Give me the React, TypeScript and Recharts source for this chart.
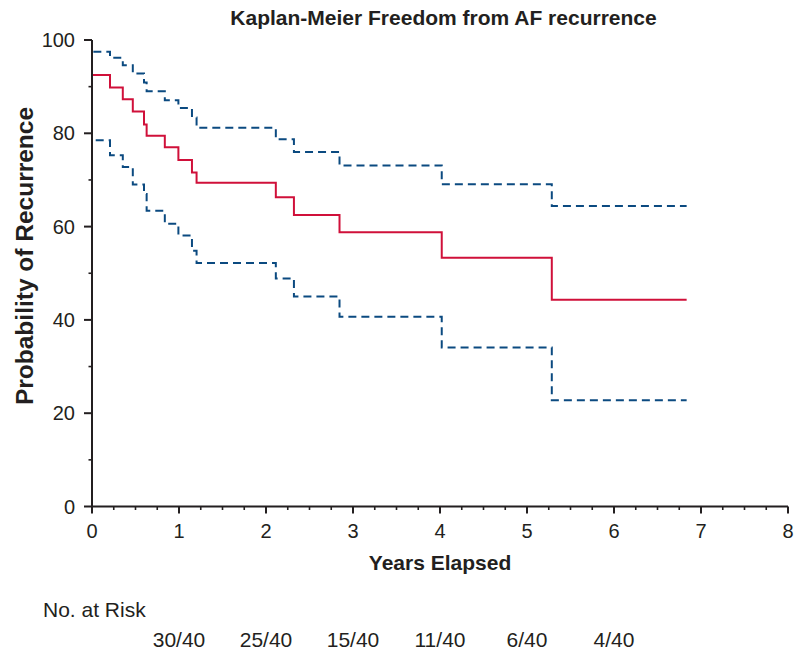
import { LineChart, Line, XAxis, YAxis } from 'recharts';

// step times (years) shared by the estimate and its confidence band
const times = [0, 0, 0.207, 0.354, 0.469, 0.598, 0.628, 0.837, 0.993, 1.149, 1.202, 2.113, 2.321, 2.845, 4.02, 5.285, 6.835];
const kmValues = [100, 92.5, 89.8, 87.3, 84.7, 81.9, 79.5, 77.0, 74.3, 71.6, 69.4, 66.3, 62.5, 58.8, 53.3, 44.3, 44.3];
const upperValues = [100, 97.5, 96.2, 94.6, 92.8, 90.9, 89.0, 87.1, 85.4, 83.4, 81.2, 78.7, 76.0, 73.1, 69.1, 64.4, 64.4];
const lowerValues = [100, 78.5, 75.3, 72.8, 69.0, 67.0, 63.4, 60.6, 58.1, 54.8, 52.2, 48.9, 45.0, 40.7, 34.1, 22.8, 22.8];

const xTicks = Array.from({ length: 33 }, (_, i) => i / 4);
const yTicks = Array.from({ length: 11 }, (_, i) => i * 10);
const riskTicks = [1, 2, 3, 4, 5, 6];
const riskLabels = ['30/40', '25/40', '15/40', '11/40', '6/40', '4/40'];

const data = times.map((t, i) => ({ t, km: kmValues[i], upper: upperValues[i], lower: lowerValues[i] }));

const INK = '#231f20';
const RED = '#d0103a';
const BLUE = '#0b4a80';
const FONT = '"Liberation Sans", Arial, Helvetica, sans-serif';
const TS = 8;

const XTick = (props: any) => {
  const { x, y, payload } = props;
  const v = payload.value;
  const major = Number.isInteger(v);
  const ay = y - TS;
  return (
    <g>
      <line x1={x} x2={x} y1={ay} y2={ay + (major ? 7 : 3.5)} stroke={INK} strokeWidth={major ? 2 : 1.6} />
      {major && (
        <text x={x} y={ay + 31} textAnchor="middle" fontSize={20} fontFamily={FONT} fill={INK}>
          {v}
        </text>
      )}
    </g>
  );
};

const YTick = (props: any) => {
  const { x, y, payload } = props;
  const v = payload.value;
  const major = v % 20 === 0;
  const ax = x + TS;
  return (
    <g>
      <line x1={ax - (major ? 8 : 3.5)} x2={ax} y1={y} y2={y} stroke={INK} strokeWidth={major ? 2 : 1.6} />
      {major && (
        <text x={ax - 17} y={y + 7} textAnchor="end" fontSize={20} fontFamily={FONT} fill={INK}>
          {v}
        </text>
      )}
    </g>
  );
};

const RiskTick = (props: any) => {
  const { x, payload } = props;
  const i = riskTicks.indexOf(payload.value);
  return (
    <text x={x} y={647} textAnchor="middle" fontSize={21} fontFamily={FONT} fill={INK}>
      {riskLabels[i]}
    </text>
  );
};

export default function App() {
  return (
    <div style={{ position: 'absolute', left: 0, top: 0, width: 794, height: 651, background: '#fff' }}>
      <div
        style={{
          position: 'absolute',
          left: 0,
          width: 887,
          top: 7,
          textAlign: 'center',
          fontFamily: FONT,
          fontWeight: 'bold',
          fontSize: 21,
          lineHeight: '21px',
          color: INK,
        }}
      >
        Kaplan-Meier Freedom from AF recurrence
      </div>
      <LineChart width={794} height={651} data={data} margin={{ top: 40, right: 6, bottom: 0, left: 0 }}>
        <XAxis
          type="number"
          dataKey="t"
          domain={[0, 8]}
          allowDataOverflow
          ticks={xTicks}
          interval={0}
          height={75}
          tickSize={TS}
          tickMargin={0}
          tickLine={false}
          axisLine={{ stroke: INK, strokeWidth: 2 }}
          tick={<XTick />}
          label={(p: any) => (
            <text
              x={p.viewBox.x + p.viewBox.width / 2}
              y={570}
              textAnchor="middle"
              fontSize={21}
              fontWeight="bold"
              fontFamily={FONT}
              fill={INK}
            >
              Years Elapsed
            </text>
          )}
        />
        <XAxis
          xAxisId="risk"
          type="number"
          dataKey="t"
          domain={[0, 8]}
          allowDataOverflow
          ticks={riskTicks}
          interval={0}
          height={69.5}
          tickSize={TS}
          tickLine={false}
          axisLine={false}
          tick={<RiskTick />}
          label={() => (
            <text x={43} y={617} textAnchor="start" fontSize={21} fontFamily={FONT} fill={INK}>
              No. at Risk
            </text>
          )}
        />
        <YAxis
          type="number"
          domain={[0, 100]}
          allowDataOverflow
          ticks={yTicks}
          interval={0}
          width={92}
          tickSize={TS}
          tickMargin={0}
          tickLine={false}
          axisLine={{ stroke: INK, strokeWidth: 2 }}
          tick={<YTick />}
          label={() => (
            <text
              x={24}
              y={256}
              transform="rotate(-90 24 256)"
              textAnchor="middle"
              dominantBaseline="central"
              fontSize={24.5}
              fontWeight="bold"
              fontFamily={FONT}
              fill={INK}
            >
              Probability of Recurrence
            </text>
          )}
        />
        <Line type="stepAfter" dataKey="upper" stroke={BLUE} strokeWidth={2} strokeDasharray="8 5" dot={false} isAnimationActive={false} />
        <Line type="stepAfter" dataKey="lower" stroke={BLUE} strokeWidth={2} strokeDasharray="8 5" dot={false} isAnimationActive={false} />
        <Line type="stepAfter" dataKey="km" stroke={RED} strokeWidth={2} dot={false} isAnimationActive={false} />
      </LineChart>
    </div>
  );
}
